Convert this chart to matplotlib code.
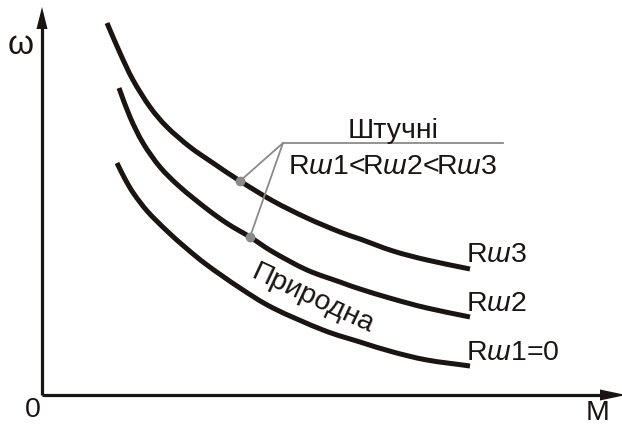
import numpy as np
import matplotlib.pyplot as plt
from matplotlib.path import Path
from matplotlib.patches import PathPatch

plt.rcParams['font.family'] = ['Liberation Sans', 'DejaVu Sans']
plt.rcParams['mathtext.fontset'] = 'custom'
plt.rcParams['mathtext.it'] = 'Liberation Sans:italic'
plt.rcParams['mathtext.rm'] = 'Liberation Sans'

# characteristic curves, points in drawing units (x = M, y = omega, y grows downward)
m_r3 = [107, 120, 133, 150, 167, 190, 213, 240, 273, 307, 340, 360, 393, 427, 470]
w_r3 = [23, 53, 80, 107, 127, 147, 163, 181, 201, 218, 232, 239, 251, 260, 269]

m_r2 = [119, 130, 143, 160, 180, 207, 228, 250, 273, 307, 340, 360, 393, 427, 470]
w_r2 = [88, 117, 143, 167, 187, 209, 224, 237, 252, 270, 282, 289, 299, 308, 317]

m_r1 = [117, 125, 134, 148, 167, 186, 207, 240, 273, 323, 360, 393, 427, 470]
w_r1 = [163, 179, 194, 212, 231, 248, 265, 288, 308, 330, 342, 352, 360, 366]

curve_labels = ['R$\\mathit{ш}$3', 'R$\\mathit{ш}$2', 'R$\\mathit{ш}$1=0']
label_w = [262, 311, 360]

# marked points on the artificial characteristics and the leader knee
dots_m = [240, 250]
dots_w = [181, 237]
knee = (283, 143)
shelf_end = 503


def smooth_path(xs, ys):
    # Catmull-Rom through the points, drawn as cubic Bezier segments
    p = np.column_stack([xs, ys]).astype(float)
    pad = np.vstack([2 * p[0] - p[1], p, 2 * p[-1] - p[-2]])
    verts = [p[0]]
    codes = [Path.MOVETO]
    for i in range(1, len(pad) - 2):
        p0, p1, p2, p3 = pad[i - 1:i + 3]
        verts += [p1 + (p2 - p0) / 6, p2 - (p3 - p1) / 6, p2]
        codes += [Path.CURVE4] * 3
    return Path(verts, codes)


fig = plt.figure(figsize=(6.22, 4.25), dpi=100)
ax = fig.add_axes([0, 0, 1, 1])
ax.set_xlim(0, 622)
ax.set_ylim(425, 0)
ax.axis('off')

black = '#1a1413'
grey = '#8a8a8a'

# axes with arrows
ax.plot([42, 42], [395, 26], color=black, lw=2.3, solid_capstyle='butt')
ax.plot([42, 602], [395, 395], color=black, lw=2.3, solid_capstyle='butt')
ax.fill([36.5, 47.5, 42], [29, 29, 7], color=black, lw=0)
ax.fill([600, 600, 626], [389.5, 400.5, 395], color=black, lw=0)

for m, w in [(m_r3, w_r3), (m_r2, w_r2), (m_r1, w_r1)]:
    ax.add_patch(PathPatch(smooth_path(m, w), fill=False, edgecolor=black,
                           lw=3.6, capstyle='butt', joinstyle='round'))

# leader lines to the label
for x, y in zip(dots_m, dots_w):
    ax.plot([x, knee[0]], [y, knee[1]], color=grey, lw=1.3)
ax.plot([knee[0], shelf_end], [knee[1], knee[1]], color=grey, lw=1.3)
ax.scatter(dots_m, dots_w, s=36, color=grey, zorder=5)

fs = 20.5
ax.text(393, 138, 'Штучні', fontsize=fs, ha='center', va='baseline', color=black)
ax.text(393, 174, 'R$\\mathit{ш}$1<R$\\mathit{ш}$2<R$\\mathit{ш}$3',
        fontsize=fs, ha='center', va='baseline', color=black)

for lbl, y in zip(curve_labels, label_w):
    ax.text(466, y, lbl, fontsize=fs, ha='left', va='baseline', color=black)

ax.text(313, 299, 'Природна', fontsize=fs, rotation=-25, rotation_mode='anchor',
        ha='center', va='center', color=black)

ax.text(21, 45, 'ω', fontsize=24, ha='center', va='center', color=black)
ax.text(33, 410, '0', fontsize=fs, ha='center', va='center', color=black)
ax.text(598, 413, 'M', fontsize=fs, ha='center', va='center', color=black)

fig.savefig('out.png', dpi=100)
